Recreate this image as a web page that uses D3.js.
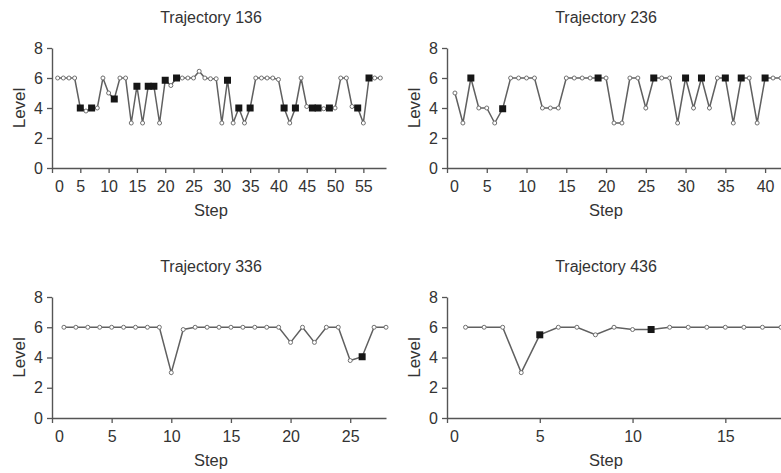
<!DOCTYPE html>
<html>
<head>
<meta charset="utf-8">
<script src="https://cdn.jsdelivr.net/npm/d3@7"></script>
<style>
  body { margin: 0; background: #fff; }
  svg { display: block; font-family: "Liberation Sans", Arial, sans-serif; }
</style>
</head>
<body>
<svg id="chart" width="781" height="473"></svg>
<script>
// chart data
var titles = ["Trajectory 136", "Trajectory 236", "Trajectory 336", "Trajectory 436"];
var levelTicks = [0, 2, 4, 6, 8];

var steps136 = [1, 2, 3, 4, 5, 6, 7, 8, 9, 10, 11, 12, 13, 14, 15, 16, 17, 18, 19, 20,
                21, 22, 23, 24, 25, 26, 27, 28, 29, 30, 31, 32, 33, 34, 35, 36, 37, 38, 39, 40,
                41, 42, 43, 44, 45, 46, 47, 48, 49, 50, 51, 52, 53, 54, 55, 56, 57, 58];
var levels136 = [6, 6, 6, 6, 4, 3.8, 4, 4, 6, 5, 4.6, 6, 6, 3, 5.45, 3, 5.45, 5.45, 3, 5.85,
                 5.5, 6, 6, 6, 6, 6.45, 6, 5.95, 5.95, 3, 5.85, 3, 4, 3, 4, 6, 6, 6, 6, 5.9,
                 4, 3, 4, 6, 4.1, 4, 4, 3.95, 4, 4, 6, 6, 4.1, 4, 3, 6, 6, 6];
var marked136 = [5, 7, 11, 15, 17, 18, 20, 22, 31, 33, 35, 41, 43, 46, 47, 49, 54, 56];
var stepTicks136 = [0, 5, 10, 15, 20, 25, 30, 35, 40, 45, 50, 55];

var steps236 = [1, 2, 3, 4, 5, 6, 7, 8, 9, 10, 11, 12, 13, 14, 15, 16, 17, 18, 19, 20, 21,
                22, 23, 24, 25, 26, 27, 28, 29, 30, 31, 32, 33, 34, 35, 36, 37, 38, 39, 40, 41, 42];
var levels236 = [5, 3, 6, 4, 4, 3, 3.95, 6, 6, 6, 6, 4, 4, 4, 6, 6, 6, 6, 6, 6, 3,
                 3, 6, 6, 4, 6, 6, 6, 3, 6, 4, 6, 4, 6, 6, 3, 6, 6, 3, 6, 6, 6];
var marked236 = [3, 7, 19, 26, 30, 32, 35, 37, 40];
var stepTicks236 = [0, 5, 10, 15, 20, 25, 30, 35, 40];

var steps336 = [1, 2, 3, 4, 5, 6, 7, 8, 9, 10, 11, 12, 13, 14,
                15, 16, 17, 18, 19, 20, 21, 22, 23, 24, 25, 26, 27, 28];
var levels336 = [6, 6, 6, 6, 6, 6, 6, 6, 6, 3, 5.85, 6, 6, 6,
                 6, 6, 6, 6, 6, 5, 6, 5, 6, 6, 3.8, 4.05, 6, 6];
var marked336 = [26];
var stepTicks336 = [0, 5, 10, 15, 20, 25];

var steps436 = [1, 2, 3, 4, 5, 6, 7, 8, 9, 10, 11, 12, 13, 14, 15, 16, 17, 18];
var levels436 = [6, 6, 6, 3, 5.5, 6, 6, 5.5, 6, 5.85, 5.85, 6, 6, 6, 6, 6, 6, 6];
var marked436 = [5, 11];
var stepTicks436 = [0, 5, 10, 15];

var svg = d3.select("#chart");

function drawPanel(o) {
  var x = d3.scaleLinear().domain([0, o.xMax]).range([o.left, o.right]);
  var y = d3.scaleLinear().domain([0, 8]).range([o.bottom, o.top]);
  var g = svg.append("g");

  var points = o.steps.map((s, i) => ({step: s, level: o.levels[i], marked: o.marked.indexOf(s) > -1}));

  // axes
  var xAxis = d3.axisBottom(x).tickValues(o.xTicks).tickSize(5).tickSizeOuter(0).tickPadding(8);
  var yAxis = d3.axisLeft(y).tickValues(levelTicks).tickSize(5).tickSizeOuter(0).tickPadding(4);

  var gx = g.append("g")
    .attr("transform", `translate(0,${o.bottom})`)
    .call(xAxis);
  gx.selectAll("text").filter(d => d === 0).attr("dx", 7); // the 0 sits clear of the y axis

  var gy = g.append("g")
    .attr("transform", `translate(${o.left},0)`)
    .call(yAxis);

  [gx, gy].forEach(a => {
    a.select(".domain").attr("stroke", "#555").attr("stroke-width", 1.4);
    a.selectAll(".tick line").attr("stroke", "#555").attr("stroke-width", 1.3);
    a.selectAll(".tick text").attr("fill", "#333").style("font-size", "16px");
  });

  var line = d3.line()
    .x(d => x(d.step))
    .y(d => y(d.level));

  g.append("path")
    .datum(points)
    .attr("d", line)
    .attr("fill", "none")
    .attr("stroke", "#606060")
    .attr("stroke-width", 1.5);

  g.selectAll(".pt")
    .data(points.filter(d => !d.marked))
    .enter().append("circle")
      .attr("class", "pt")
      .attr("cx", d => x(d.step))
      .attr("cy", d => y(d.level))
      .attr("r", 2)
      .attr("fill", "#fff")
      .attr("stroke", "#707070")
      .attr("stroke-width", 1);

  var sq = 7;
  g.selectAll(".sq")
    .data(points.filter(d => d.marked))
    .enter().append("rect")
      .attr("class", "sq")
      .attr("x", d => x(d.step) - sq / 2)
      .attr("y", d => y(d.level) - sq / 2)
      .attr("width", sq)
      .attr("height", sq)
      .attr("fill", "#161616");

  var cx = (o.left + o.right) / 2 - 8;

  g.append("text")
    .attr("x", cx)
    .attr("y", o.top - 25)
    .attr("text-anchor", "middle")
    .attr("fill", "#333")
    .style("font-size", "16px")
    .text(o.title);

  g.append("text")
    .attr("x", cx)
    .attr("y", o.bottom + 48)
    .attr("text-anchor", "middle")
    .attr("fill", "#333")
    .style("font-size", "16.5px")
    .text("Step");

  g.append("text")
    .attr("transform", "rotate(-90)")
    .attr("x", -(o.top + o.bottom) / 2)
    .attr("y", o.left - 27)
    .attr("text-anchor", "middle")
    .attr("fill", "#333")
    .style("font-size", "17px")
    .text("Level");
}

drawPanel({title: titles[0], steps: steps136, levels: levels136, marked: marked136, xTicks: stepTicks136,
           xMax: 59, left: 52, right: 386, top: 48, bottom: 168});
drawPanel({title: titles[1], steps: steps236, levels: levels236, marked: marked236, xTicks: stepTicks236,
           xMax: 42, left: 447, right: 781, top: 48, bottom: 168});
drawPanel({title: titles[2], steps: steps336, levels: levels336, marked: marked336, xTicks: stepTicks336,
           xMax: 28, left: 52, right: 386, top: 297, bottom: 418});
drawPanel({title: titles[3], steps: steps436, levels: levels436, marked: marked436, xTicks: stepTicks436,
           xMax: 18, left: 447, right: 781, top: 297, bottom: 418});
</script>
</body>
</html>
